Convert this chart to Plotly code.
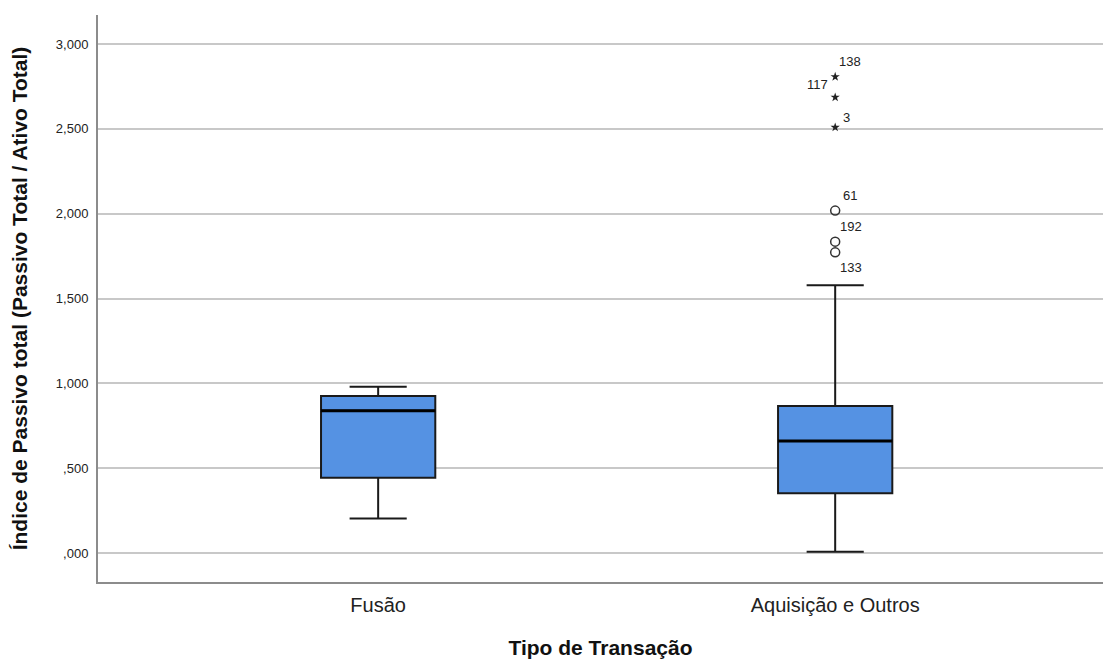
import plotly.graph_objects as go

categories = ["Fusão", "Aquisição e Outros"]
lower_whisker = [0.204, 0.008]
q1_values = [0.444, 0.352]
median_values = [0.839, 0.660]
q3_values = [0.925, 0.866]
upper_whisker = [0.980, 1.578]

# outliers (all in "Aquisição e Outros")
circle_values = [2.018, 1.835, 1.772]
circle_ids = ["61", "192", "133"]
star_values = [2.807, 2.686, 2.509]
star_ids = ["138", "117", "3"]

tick_vals = [0, 0.5, 1.0, 1.5, 2.0, 2.5, 3.0]
tick_text = [",000", ",500", "1,000", "1,500", "2,000", "2,500", "3,000"]

FONT = "Liberation Sans, Arial, sans-serif"
BOX_FILL = "#5592E3"

fig = go.Figure()

# main box with whiskers
fig.add_trace(go.Box(
    x=categories,
    q1=q1_values, median=median_values, q3=q3_values,
    lowerfence=lower_whisker, upperfence=upper_whisker,
    fillcolor=BOX_FILL,
    line=dict(color="#1a1a1a", width=2),
    width=0.25,
    whiskerwidth=0.5,
    boxpoints=False,
    hoverinfo="skip",
    showlegend=False,
))

# thick median line
fig.add_trace(go.Box(
    x=categories,
    q1=median_values, median=median_values, q3=median_values,
    lowerfence=median_values, upperfence=median_values,
    fillcolor="rgba(0,0,0,0)",
    line=dict(color="#000000", width=3),
    width=0.25,
    whiskerwidth=0,
    boxpoints=False,
    hoverinfo="skip",
    showlegend=False,
))

# outlier circles
fig.add_trace(go.Scatter(
    x=[categories[1]] * len(circle_values), y=circle_values,
    mode="markers",
    marker=dict(symbol="circle-open", size=9, color="#333333", line=dict(width=1.5, color="#333333")),
    showlegend=False, hoverinfo="skip",
))
# extreme stars
fig.add_trace(go.Scatter(
    x=[categories[1]] * len(star_values), y=star_values,
    mode="markers",
    marker=dict(symbol="star", size=7, color="#222222", line=dict(width=0)),
    showlegend=False, hoverinfo="skip",
))

label_offsets = {
    "138": (2, 15, "left"),
    "117": (-5, 13, "right"),
    "3": (6, 10, "left"),
    "61": (6, 15, "left"),
    "192": (3, 15, "left"),
    "133": (3, -15, "left"),
}
for v, lab in list(zip(star_values, star_ids)) + list(zip(circle_values, circle_ids)):
    dx, dy, anchor = label_offsets[lab]
    fig.add_annotation(
        x=categories[1], y=v, text=lab, showarrow=False,
        xanchor=anchor, yanchor="middle", xshift=dx, yshift=dy,
        font=dict(family=FONT, size=13, color="#222222"),
    )

fig.update_layout(
    width=1103, height=659,
    margin=dict(l=98, r=0, t=15, b=77),
    paper_bgcolor="white", plot_bgcolor="white",
    font=dict(family=FONT, color="#222222"),
)
fig.update_xaxes(
    type="category", range=[-0.613, 1.586],
    showline=True, linecolor="#8c8c8c", linewidth=2,
    showgrid=False, ticks="",
    ticklabelstandoff=4,
    tickfont=dict(family=FONT, size=20, color="#222222"),
    title=dict(text="<b>Tipo de Transação</b>", font=dict(family=FONT, size=21, color="#111111"), standoff=25),
)
fig.update_yaxes(
    range=[-0.171, 3.171],
    tickvals=tick_vals, ticktext=tick_text,
    showline=True, linecolor="#8c8c8c", linewidth=2,
    showgrid=True, gridcolor="#c8c8c8", gridwidth=1.5,
    zeroline=False, ticks="",
    ticklabelstandoff=5,
    tickfont=dict(family=FONT, size=13, color="#222222"),
    title=dict(text="<b>Índice de Passivo total (Passivo Total / Ativo Total)</b>",
               font=dict(family=FONT, size=21, color="#111111"), standoff=23),
)

fig.write_html("out.html")
